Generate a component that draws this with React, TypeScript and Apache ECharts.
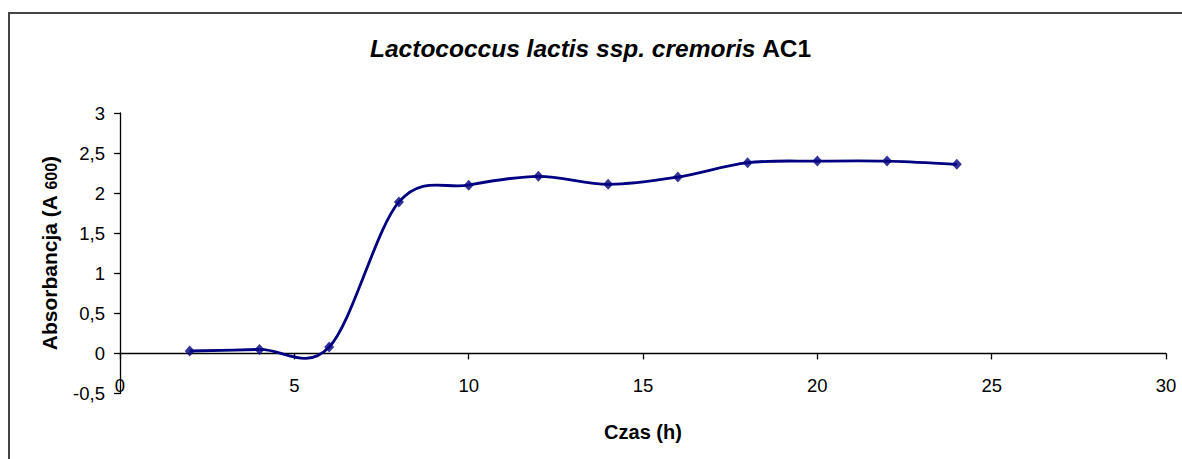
import React, { useEffect, useRef } from "react";
import * as echarts from "echarts";

const hours = [2, 4, 6, 8, 10, 12, 14, 16, 18, 20, 22, 24];
const absorbance = [0.03, 0.05, 0.08, 1.89, 2.1, 2.21, 2.11, 2.2, 2.38, 2.4, 2.4, 2.36];

const xTicks = { min: 0, max: 30, interval: 5 };
const yTicks = { min: -0.5, max: 3, interval: 0.5 };

const FONT = "'Liberation Sans', Arial, sans-serif";
const NAVY = "#000080";

export default function App() {
  const ref = useRef<HTMLDivElement>(null);

  useEffect(() => {
    if (!ref.current) return;
    const chart = echarts.init(ref.current, null, { renderer: "svg" });
    const n = hours.length;
    const pt = (k: number) => {
      const j = Math.max(0, Math.min(n - 1, k));
      return [hours[j], absorbance[j]];
    };
    const segments = hours.slice(0, -1).map((h, i) => [h, absorbance[i], i]);

    chart.setOption({
      animation: false,
      backgroundColor: "#fff",
      title: {
        text: "{i|Lactococcus lactis ssp. cremoris} {n|AC1}",
        left: 365,
        top: 31,
        textStyle: {
          fontFamily: FONT,
          fontSize: 24.5,
          fontWeight: "bold",
          color: "#000",
          rich: {
            i: { fontFamily: FONT, fontSize: 24.5, fontWeight: "bold", fontStyle: "italic", color: "#000" },
            n: { fontFamily: FONT, fontSize: 24.5, fontWeight: "bold", color: "#000" },
          },
        },
      },
      graphic: [
        {
          type: "rect",
          silent: true,
          z: -10,
          shape: { x: 9, y: 13, width: 1400, height: 700 },
          style: { fill: "none", stroke: "#444", lineWidth: 2 },
        },
      ],
      grid: { left: 120, right: 16, top: 113, bottom: 65.5, containLabel: false, outerBoundsMode: "none" },
      xAxis: {
        type: "value",
        min: xTicks.min,
        max: xTicks.max,
        interval: xTicks.interval,
        name: "Czas (h)",
        nameLocation: "middle",
        nameGap: 28,
        nameTextStyle: { fontFamily: FONT, fontSize: 20, fontWeight: "bold", color: "#000" },
        axisLine: { onZero: true, lineStyle: { color: "#000", width: 1.3 } },
        axisTick: { show: true, inside: false, length: 6, lineStyle: { color: "#000", width: 1.3 } },
        axisLabel: { margin: -18, fontFamily: FONT, fontSize: 18.5, color: "#000" },
        splitLine: { show: false },
      },
      yAxis: {
        type: "value",
        min: yTicks.min,
        max: yTicks.max,
        interval: yTicks.interval,
        name: "{a|Absorbancja (A }{b|600}{a|)}",
        nameLocation: "middle",
        nameRotate: 90,
        nameGap: 60,
        nameTextStyle: {
          fontFamily: FONT,
          fontSize: 21,
          fontWeight: "bold",
          color: "#000",
          rich: {
            a: { fontFamily: FONT, fontSize: 21, fontWeight: "bold", color: "#000", verticalAlign: "bottom" },
            b: { fontFamily: FONT, fontSize: 16, fontWeight: "bold", color: "#000", verticalAlign: "bottom", padding: [0, 0, 1, 0] },
          },
        },
        axisLine: { show: true, onZero: false, lineStyle: { color: "#000", width: 1.3 } },
        axisTick: { show: true, inside: false, length: 6, lineStyle: { color: "#000", width: 1.3 } },
        axisLabel: {
          margin: 15,
          fontFamily: FONT,
          fontSize: 18.5,
          color: "#000",
          formatter: (v: number) => String(v).replace(".", ","),
        },
        splitLine: { show: false },
      },
      series: [
        {
          type: "custom",
          data: segments,
          encode: { x: 0, y: 1 },
          renderItem: (params: any, api: any) => {
            const i = api.value(2);
            const p0 = pt(i - 1);
            const p1 = pt(i);
            const p2 = pt(i + 1);
            const p3 = pt(i + 2);
            const c1 = [p1[0] + (p2[0] - p0[0]) / 6, p1[1] + (p2[1] - p0[1]) / 6];
            const c2 = [p2[0] - (p3[0] - p1[0]) / 6, p2[1] - (p3[1] - p1[1]) / 6];
            const a = api.coord(p1);
            const b = api.coord(p2);
            const ca = api.coord(c1);
            const cb = api.coord(c2);
            return {
              type: "bezierCurve",
              shape: { x1: a[0], y1: a[1], x2: b[0], y2: b[1], cpx1: ca[0], cpy1: ca[1], cpx2: cb[0], cpy2: cb[1] },
              style: { stroke: NAVY, lineWidth: 2.8, fill: "none" },
            };
          },
          z: 2,
        },
        {
          type: "scatter",
          data: hours.map((h, i) => [h, absorbance[i]]),
          symbol: "diamond",
          symbolSize: [10, 11],
          itemStyle: { color: NAVY },
          z: 3,
        },
      ],
    });
    return () => chart.dispose();
  }, []);

  return (
    <div
      ref={ref}
      style={{ position: "fixed", left: 0, top: 0, width: 1182, height: 459, background: "#fff" }}
    />
  );
}
